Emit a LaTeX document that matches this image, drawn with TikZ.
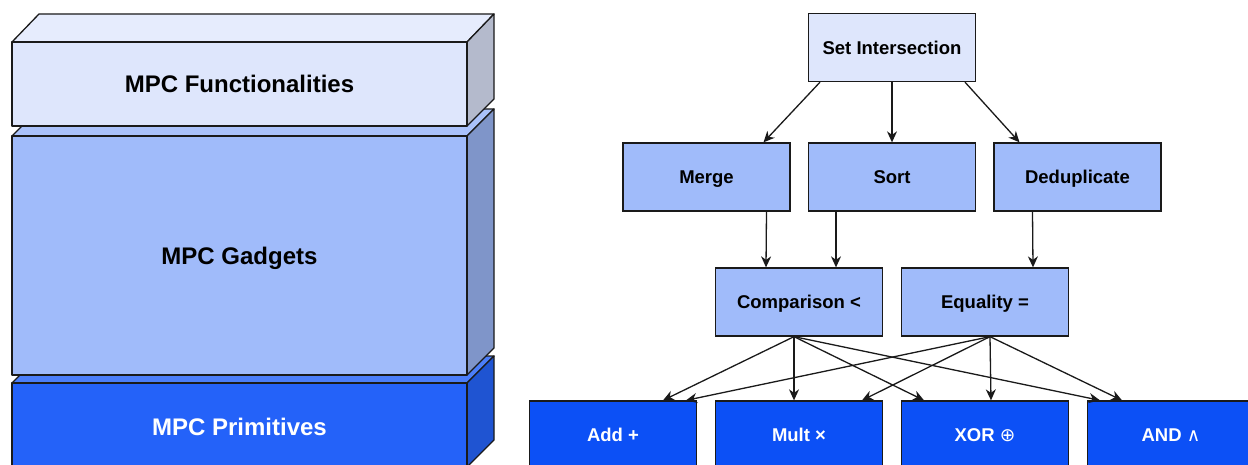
\documentclass[tikz,border=0pt]{standalone}
\usepackage{fontspec}
\setmainfont{Liberation Sans}
\newfontfamily\symfont{DejaVu Sans}
\usetikzlibrary{arrows.meta}
\definecolor{fLight}{HTML}{DEE6FC}
\definecolor{fTop}{HTML}{E6ECFD}
\definecolor{fSide}{HTML}{B4BACC}
\definecolor{gMid}{HTML}{A0BBFA}
\definecolor{gTop}{HTML}{AAC2FB}
\definecolor{gSide}{HTML}{7F95C9}
\definecolor{pBlue}{HTML}{2462F9}
\definecolor{pTop}{HTML}{4B7EF9}
\definecolor{pSide}{HTML}{1F54D2}
\definecolor{bBlue}{HTML}{0C50F6}
\definecolor{lineC}{HTML}{1A1A1A}
\tikzset{
  face/.style={draw=lineC, line width=1.3pt, line join=round},
  layertext/.style={font=\bfseries\fontsize{24}{28}\selectfont, inner sep=0pt,
    text height=17.2pt, text depth=0pt},
  box/.style={draw=lineC, line width=1.3pt, minimum width=167pt, minimum height=68pt,
    inner sep=0pt, text height=13.2pt, text depth=0pt,
    font=\bfseries\fontsize{18.5}{22}\selectfont},
  topbox/.style={box, fill=fLight},
  midbox/.style={box, fill=gMid},
  primbox/.style={box, fill=bBlue, text=white},
  arr/.style={draw=lineC, line width=1.3pt, -{Stealth[length=11pt,width=10pt,inset=3.5pt]}}
}
\begin{document}
\begin{tikzpicture}[x=1pt, y=-1pt]
\clip (0,0) rectangle (1248,465);
\fill[white] (0,0) rectangle (1248,465);
% ---- Primitives layer
\draw[face, fill=pTop] (12,383) -- (39,356) -- (494,356) -- (467,383) -- cycle;
\draw[face, fill=pSide] (467,383) -- (494,356) -- (494,440) -- (467,467) -- cycle;
\draw[face, fill=pBlue] (12,383) rectangle (467,467);
\node[layertext, text=white] (prim) at (239.5,427) {MPC Primitives};
% ---- Gadgets layer
\draw[face, fill=gTop] (12,136) -- (39,109) -- (494,109) -- (467,136) -- cycle;
\draw[face, fill=gSide] (467,136) -- (494,109) -- (494,348) -- (467,375) -- cycle;
\draw[face, fill=gMid] (12,136) rectangle (467,375);
\node[layertext] (gadg) at (239.5,256) {MPC Gadgets};
% ---- Functionalities layer
\draw[face, fill=fTop] (12,42) -- (39,14) -- (494,14) -- (467,42) -- cycle;
\draw[face, fill=fSide] (467,42) -- (494,14) -- (494,99) -- (467,126) -- cycle;
\draw[face, fill=fLight] (12,42) rectangle (467,126);
\node[layertext] (func) at (239.5,84) {MPC Functionalities};
% ---- Right diagram
\node[topbox] (si) at (892,47.5) {Set Intersection};
\node[midbox] (merge) at (706.5,177) {Merge};
\node[midbox] (sort) at (892,177) {Sort};
\node[midbox] (dedup) at (1077.5,177) {Deduplicate};
\node[midbox] (comp) at (799,302) {Comparison <};
\node[midbox] (eq) at (985,302) {Equality =};
\node[primbox] (add) at (613,435) {Add +};
\node[primbox] (mult) at (799,435) {Mult ×};
\node[primbox] (xor) at (985,435) {XOR {\symfont\mdseries ⊕}};
\node[primbox] (and) at (1171,435) {AND {\symfont\mdseries ∧}};
% arrows
\draw[arr] ([xshift=-72pt]si.south) -- ([xshift=57pt]merge.north);
\draw[arr] (si.south) -- (sort.north);
\draw[arr] ([xshift=73pt]si.south) -- ([xshift=-58pt]dedup.north);
\draw[arr] ([xshift=60pt]merge.south) -- ([xshift=-33pt]comp.north);
\draw[arr] ([xshift=-56pt]sort.south) -- ([xshift=37pt]comp.north);
\draw[arr] ([xshift=-45pt]dedup.south) -- ([xshift=48pt]eq.north);
\draw[arr] ([xshift=-5pt]comp.south) -- ([xshift=50pt]add.north);
\draw[arr] ([xshift=-5pt]comp.south) -- ([xshift=-5pt]mult.north);
\draw[arr] ([xshift=-5pt]comp.south) -- ([xshift=-61pt]xor.north);
\draw[arr] ([xshift=-5pt]comp.south) -- ([xshift=-71pt]and.north);
\draw[arr] ([xshift=5pt]eq.south) -- ([xshift=73pt]add.north);
\draw[arr] ([xshift=5pt]eq.south) -- ([xshift=63pt]mult.north);
\draw[arr] ([xshift=5pt]eq.south) -- ([xshift=6pt]xor.north);
\draw[arr] ([xshift=5pt]eq.south) -- ([xshift=-49pt]and.north);
\end{tikzpicture}
\end{document}
